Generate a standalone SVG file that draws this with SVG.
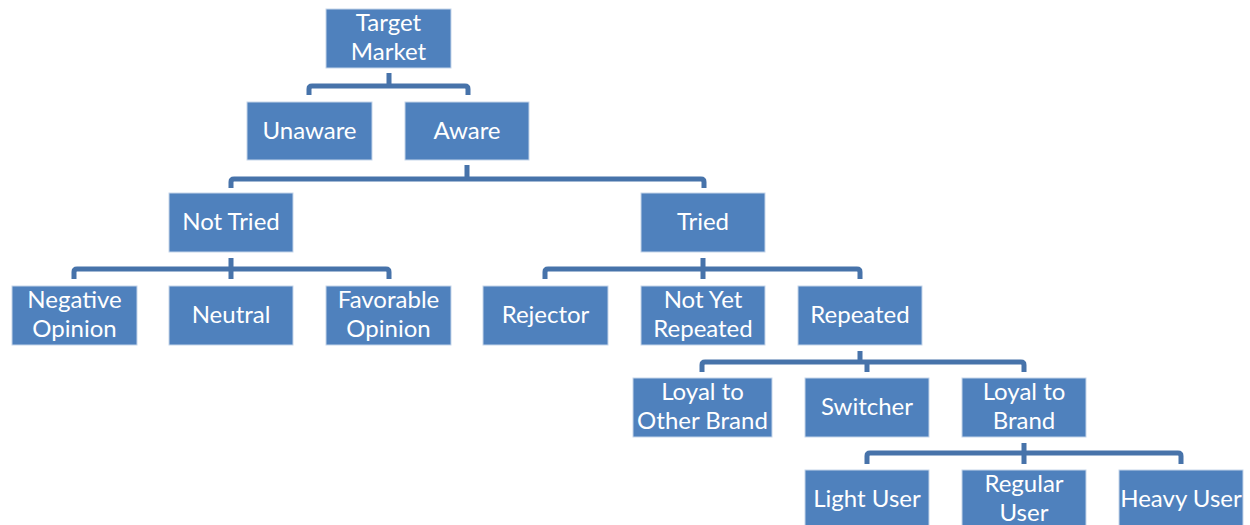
<svg xmlns="http://www.w3.org/2000/svg" width="1250" height="525" viewBox="0 0 1250 525">
<style>
.box{fill:#4f81bd;stroke:#c5d5ea;stroke-width:1}
.t{font-family:Lato,"Open Sans",sans-serif;font-size:24px;fill:#ffffff;text-anchor:middle}
.c{fill:none;stroke:#4773aa;stroke-width:5;stroke-linejoin:round}
</style>
<rect width="1250" height="525" fill="#ffffff"/>
<g id="connectors">
<path class="c" d="M389 73V86M309 95V89Q309 86 312 86H465Q468 86 468 89V95"/>
<path class="c" d="M467 165V179M231 188V182Q231 179 234 179H701Q704 179 704 182V188"/>
<path class="c" d="M231 258V269M74 279V272Q74 269 77 269H386Q389 269 389 272V279"/>
<path class="c" d="M703 258V269M545 279V272Q545 269 548 269H857Q860 269 860 272V279M703 269V279"/>
<path class="c" d="M231 269V279"/>
<path class="c" d="M860 351V362M702 372V365Q702 362 705 362H1021Q1024 362 1024 365V372M867 362V372"/>
<path class="c" d="M1024 443V453M867 464V456Q867 453 870 453H1178Q1181 453 1181 456V464M1024 453V464"/>
</g>
<g id="target-market"><rect class="box" x="326" y="9" width="125" height="59"/><text class="t" x="388.5" y="31">Target</text><text class="t" x="388.5" y="60">Market</text></g>
<g id="unaware"><rect class="box" x="247" y="102" width="125" height="58"/><text class="t" x="309.5" y="139">Unaware</text></g>
<g id="aware"><rect class="box" x="405" y="102" width="124" height="58"/><text class="t" x="467" y="139">Aware</text></g>
<g id="not-tried"><rect class="box" x="169" y="193" width="124" height="59"/><text class="t" x="231" y="230">Not Tried</text></g>
<g id="tried"><rect class="box" x="641" y="193" width="124" height="59"/><text class="t" x="703" y="230">Tried</text></g>
<g id="negative-opinion"><rect class="box" x="12" y="286" width="125" height="59"/><text class="t" x="74.5" y="308">Negative</text><text class="t" x="74.5" y="337">Opinion</text></g>
<g id="neutral"><rect class="box" x="169" y="286" width="124" height="59"/><text class="t" x="231" y="323">Neutral</text></g>
<g id="favorable-opinion"><rect class="box" x="326" y="286" width="125" height="59"/><text class="t" x="388.5" y="308">Favorable</text><text class="t" x="388.5" y="337">Opinion</text></g>
<g id="rejector"><rect class="box" x="483" y="286" width="125" height="59"/><text class="t" x="545.5" y="323">Rejector</text></g>
<g id="not-yet-repeated"><rect class="box" x="641" y="286" width="124" height="59"/><text class="t" x="703" y="308">Not Yet</text><text class="t" x="703" y="337">Repeated</text></g>
<g id="repeated"><rect class="box" x="798" y="286" width="124" height="59"/><text class="t" x="860" y="323">Repeated</text></g>
<g id="loyal-other"><rect class="box" x="633" y="378" width="139" height="59"/><text class="t" x="702.5" y="400">Loyal to</text><text class="t" x="702.5" y="429">Other Brand</text></g>
<g id="switcher"><rect class="box" x="805" y="378" width="124" height="59"/><text class="t" x="867" y="415">Switcher</text></g>
<g id="loyal-brand"><rect class="box" x="962" y="378" width="124" height="59"/><text class="t" x="1024" y="400">Loyal to</text><text class="t" x="1024" y="429">Brand</text></g>
<g id="light-user"><rect class="box" x="805" y="470" width="124" height="59"/><text class="t" x="867" y="507">Light User</text></g>
<g id="regular-user"><rect class="box" x="962" y="470" width="124" height="59"/><text class="t" x="1024" y="492">Regular</text><text class="t" x="1024" y="521">User</text></g>
<g id="heavy-user"><rect class="box" x="1119" y="470" width="124" height="59"/><text class="t" x="1181" y="507">Heavy User</text></g>
</svg>
